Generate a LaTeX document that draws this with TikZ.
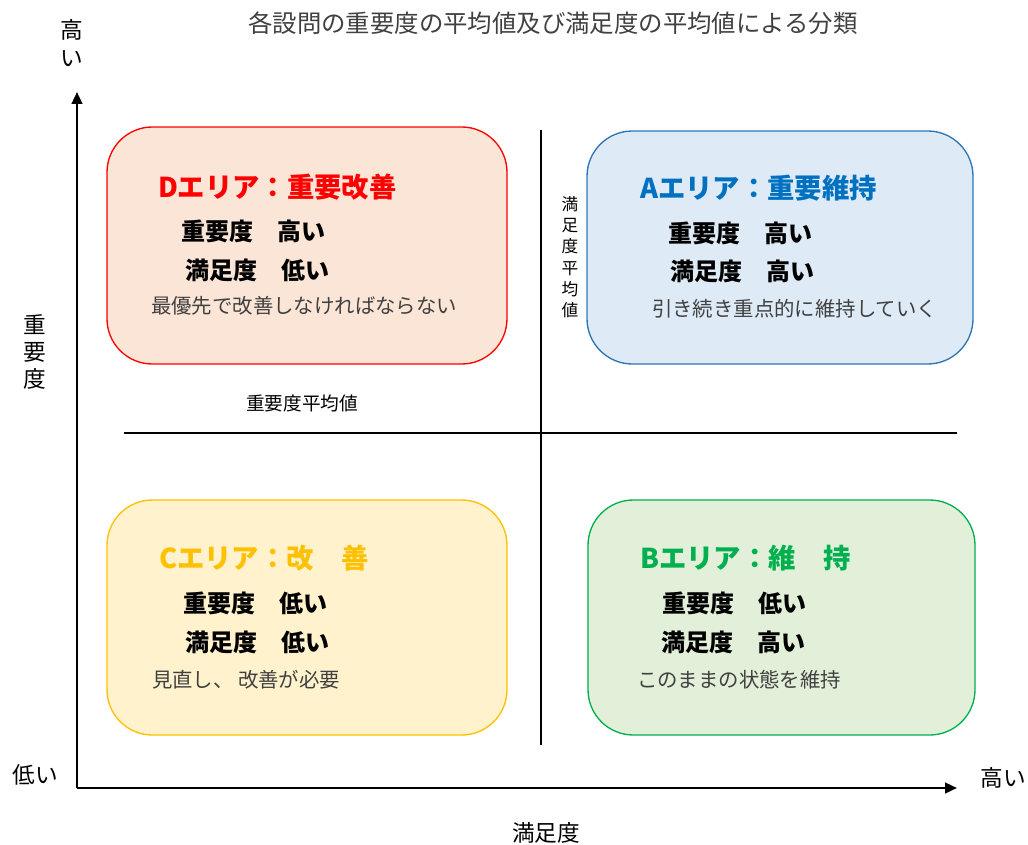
\documentclass[tikz,border=0pt]{standalone}
\usepackage{fontspec}
\setmainfont{Noto Sans CJK JP}
\usetikzlibrary{arrows.meta}
\definecolor{dline}{HTML}{FF0000}
\definecolor{dfill}{HTML}{FBE5D6}
\definecolor{aline}{HTML}{2E75B6}
\definecolor{afill}{HTML}{DEEBF7}
\definecolor{atext}{HTML}{0070C0}
\definecolor{cline}{HTML}{FFC000}
\definecolor{cfill}{HTML}{FFF2CC}
\definecolor{bline}{HTML}{00B050}
\definecolor{bfill}{HTML}{E2F0D9}
\definecolor{descgray}{HTML}{404040}
\tikzset{
  area/.style={line width=1pt, rounded corners=34pt},
  axisline/.style={line width=1.8pt, -{Triangle[length=9pt,width=8pt]}},
  midline/.style={line width=0.8pt},
  titletext/.style={font=\fontsize{18.3}{22}\selectfont, text=descgray},
  areatitle/.style={font=\bfseries\fontsize{20.5}{24}\selectfont, anchor=west},
  detail/.style={font=\bfseries\fontsize{18}{22}\selectfont, anchor=west},
  desc/.style={font=\fontsize{15.3}{18}\selectfont, text=descgray, anchor=west},
  axislabel/.style={font=\fontsize{17}{20}\selectfont},
}
\begin{document}
\begin{tikzpicture}[x=0.75pt,y=-0.75pt, every node/.style={inner sep=0pt, outer sep=0pt}]
\useasboundingbox (0,0) rectangle (1028,845);

% title
\node[titletext] (title) at (553,23) {各設問の重要度の平均値及び満足度の平均値による分類};

% area boxes
\draw[area, draw=dline, fill=dfill] (107,127) rectangle (507,364);
\draw[area, draw=aline, fill=afill] (587,131) rectangle (973,364);
\draw[area, draw=cline, fill=cfill] (107,500) rectangle (507,735);
\draw[area, draw=bline, fill=bfill] (588,500) rectangle (975,735);

% average lines
\coordinate (hl) at (124,433);
\coordinate (hr) at (957,433);
\coordinate (vt) at (541,130);
\coordinate (vb) at (541,745);
\draw[midline] (hl) -- (hr);
\draw[midline] (vt) -- (vb);
\node[font=\fontsize{14}{16}\selectfont] (havg) at (302,403) {重要度平均値};
\node[font=\fontsize{12.5}{16}\selectfont, align=center] (vavg) at (570,257) {満\\足\\度\\平\\均\\値};

% axes
\coordinate (O) at (77,788);
\coordinate (ytip) at (77,92);
\coordinate (xtip) at (957,788);
\draw[axisline] (O) -- (ytip);
\draw[axisline] (O) -- (xtip);

\node[axislabel, align=center, font=\fontsize{17}{21.5}\selectfont] (yhigh) at (72,43) {高\\い};
\node[axislabel, align=center, font=\fontsize{17}{20.5}\selectfont] (ylab) at (35,352) {重\\要\\度};
\node[axislabel] (low) at (35,775) {低い};
\node[axislabel] (xhigh) at (1003,778) {高い};
\node[axislabel] (xlab) at (546,833) {満足度};

% D area
\node[areatitle, text=dline] (dt) at (158,187) {Dエリア：重要改善};
\node[detail] (d1) at (181,231) {重要度　高い};
\node[detail] (d2) at (185,270) {満足度　低い};
\node[desc] (d3) at (151,306) {最優先で改善しなければならない};

% A area
\node[areatitle, text=atext] (at) at (640,188) {Aエリア：重要維持};
\node[detail] (a1) at (668,233) {重要度　高い};
\node[detail] (a2) at (670,271) {満足度　高い};
\node[desc] (a3) at (652,309) {引き続き重点的に維持していく};

% C area
\node[areatitle, text=cline] (ct) at (159,558) {Cエリア：改　善};
\node[detail] (c1) at (183,603) {重要度　低い};
\node[detail] (c2) at (185,642) {満足度　低い};
\node[desc] (c3) at (152,680) {見直し、 改善が必要};

% B area
\node[areatitle, text=bline] (bt) at (640,558) {Bエリア：維　持};
\node[detail] (b1) at (662,603) {重要度　低い};
\node[detail] (b2) at (661,642) {満足度　高い};
\node[desc] (b3) at (637,680) {このままの状態を維持};
\end{tikzpicture}
\end{document}
